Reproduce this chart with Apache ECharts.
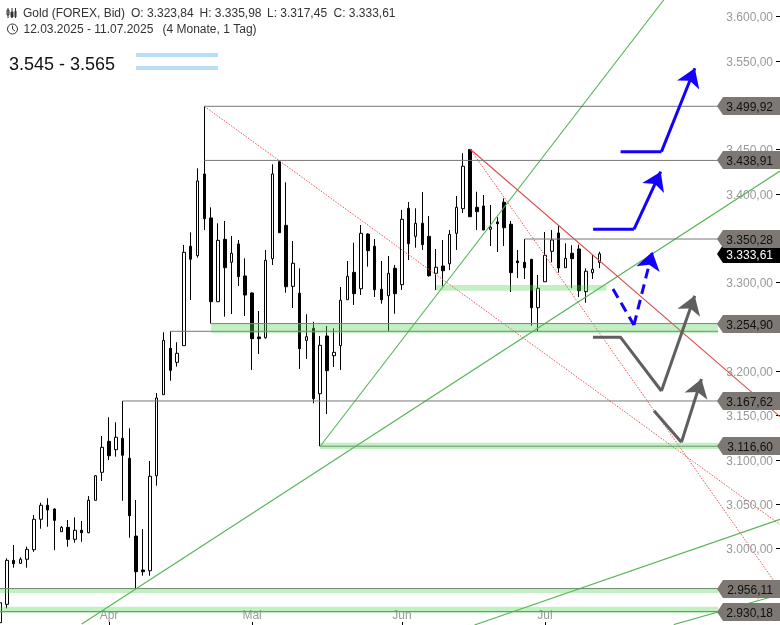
<!DOCTYPE html>
<html>
<head>
<meta charset="utf-8">
<title>Gold (FOREX, Bid)</title>
<script src="https://cdn.jsdelivr.net/npm/echarts@6/dist/echarts.min.js"></script>
<style>
  html, body { margin: 0; padding: 0; background: #fff; }
  #chart { width: 780px; height: 625px; }
</style>
</head>
<body>
<div id="chart"></div>
<script>
// daily candles, one entry per trading day (bar number = position in the list)
const opens = [2917.6,2938.3,2987.9,2984.5,2989.1,2999.9,3034.2,3050.0,3045.8,3020.2,3025.1,3011.6,3021.8,3019.1,3055.6,3087.2,3122.1,3112.7,3125.5,3103.0,3015.3,2977.0,2976.2,3083.3,3174.7,3227.0,3211.2,3230.0,3342.1,3331.5,3423.6,3374.0,3279.6,3349.9,3324.0,3344.7,3308.6,3289.4,3239.8,3239.0,3328.1,3437.5,3365.7,3296.9,3289.1,3236.0,3249.6,3175.8,3240.9,3218.7,3230.0,3281.8,3312.7,3294.2,3355.9,3342.1,3293.6,3286.3,3317.2,3298.8,3384.9,3353.3,3368.0,3353.3,3311.6,3319.8,3322.4,3356.7,3384.5,3451.2,3386.0,3387.5,3361.2,3369.5,3391.7,3366.9,3325.5,3324.0,3327.4,3272.8,3302.1,3336.4,3357.1,3317.9,3334.2,3339.0,3290.9,3312.3,3323.84];
const closes = [2940.1,2987.9,2984.1,2989.1,3000.3,3034.2,3050.0,3044.7,3033.0,3025.1,3011.6,3021.8,3019.1,3055.6,3083.3,3115.4,3105.9,3126.7,3106.4,3038.2,2975.1,2975.1,3082.7,3171.0,3236.0,3202.2,3221.4,3335.3,3327.4,3415.7,3373.2,3279.6,3348.8,3317.9,3334.2,3307.8,3287.1,3237.9,3237.9,3326.3,3423.6,3357.4,3296.5,3322.9,3226.6,3240.1,3170.2,3230.4,3201.8,3222.5,3281.2,3308.2,3288.6,3356.7,3337.1,3293.1,3281.8,3311.6,3288.6,3372.5,3345.0,3368.0,3343.9,3308.9,3318.4,3314.5,3355.6,3386.0,3432.3,3375.4,3381.1,3360.4,3363.5,3367.5,3363.0,3312.3,3323.6,3317.9,3272.8,3294.7,3331.9,3349.2,3317.6,3328.5,3328.1,3292.0,3313.9,3316.1,3333.61];
const lows = [2915.5,2933.8,2979.6,2983.8,2979.6,2997.6,3023.6,3025.8,2999.5,3020.2,3003.3,3007.8,3008.9,3018.4,3055.6,3077.4,3101.0,3104.8,3055.1,3013.4,2956.11,2970.6,2970.6,3072.1,3174.7,3190.5,3206.3,3230.0,3281.5,3329.2,3360.4,3254.90,3279.6,3262.7,3265.7,3297.3,3263.4,3202.6,3220.6,3237.9,3321.0,3357.4,3289.7,3272.5,3203.7,3215.0,3165.0,3116.60,3152.9,3205.9,3202.6,3281.8,3275.9,3287.1,3319.1,3284.9,3277.3,3246.5,3266.0,3292.8,3326.6,3340.5,3337.9,3307.8,3292.8,3296.5,3315.3,3337.9,3379.6,3375.4,3360.4,3360.4,3342.4,3335.6,3342.4,3290.5,3306.3,3305.2,3252.5,3246.5,3302.1,3324.0,3312.3,3317.9,3294.7,3284.9,3278.4,3305.2,3317.45];
const highs = [2943.2,2990.2,3005.2,2991.3,3003.3,3039.0,3052.9,3057.9,3046.6,3026.6,3033.4,3036.4,3032.3,3060.4,3084.1,3128.1,3149.2,3143.6,3167.62,3136.8,3055.9,3023.2,3099.9,3176.6,3245.1,3246.2,3233.8,3343.5,3357.8,3430.0,3499.92,3386.0,3368.0,3370.6,3353.7,3349.2,3328.5,3290.2,3269.1,3337.9,3434.5,3438.91,3414.2,3348.0,3317.2,3265.4,3257.0,3240.9,3252.2,3249.6,3296.2,3325.5,3346.1,3366.1,3356.7,3350.3,3325.5,3331.1,3321.0,3383.0,3392.0,3384.9,3403.3,3376.2,3339.0,3349.2,3360.4,3398.8,3446.9,3451.8,3403.6,3399.9,3388.6,3374.8,3396.2,3370.6,3337.9,3350.28,3327.4,3309.7,3358.2,3360.4,3365.7,3345.4,3343.2,3343.9,3317.2,3332.3,3335.98];

// axis ticks
const monthBars = [16, 37, 59, 80];
const monthLabels = ['Apr', 'Mai', 'Jun', 'Jul'];
const priceTicks = [2950,3000,3050,3100,3150,3200,3250,3300,3350,3400,3450,3500,3550,3600];
const priceTickLabels = ['2.950,00','3.000,00','3.050,00','3.100,00','3.150,00','3.200,00','3.250,00','3.300,00','3.350,00','3.400,00','3.450,00','3.500,00','3.550,00','3.600,00'];

// horizontal levels: [first bar, price]
const levels = [[30,3499.92],[30,3438.91],[77,3350.28],[31,3254.90],[25,3246.2],[18,3167.62],[47,3116.60],[0,2956.11],[0,2930.18]];
const levelLabels = [[3499.92,'3.499,92'],[3438.91,'3.438,91'],[3350.28,'3.350,28'],[3254.90,'3.254,90'],[3167.62,'3.167,62'],[3116.60,'3.116,60'],[2956.11,'2.956,11'],[2930.18,'2.930,18']];
const lastPrice = [3333.61, '3.333,61'];
const levelEnd = 105.4;

// support zones: [first bar, last bar, upper price, lower price]
const zones = [[31,105.4,3255.2,3243.9],[47,105.4,3120.6,3113.5],[0,105.4,2956.4,2951],[0,105.4,2935.6,2928.2],[64,89,3298.4,3292]];

// trend lines: [bar, price] pairs
const greenLines = [[[47,3116.6],[97.43,3619.8]],[[12,2916.1],[114.5,3427]],[[69.65,2915],[114.5,3034.2]],[[98.9,2915.5],[114.5,2949.4]]];
const redLine = [[69,3451.8],[114.5,3149.9]];
const redDotted = [[[30,3499.92],[114.5,3028.3]],[[69,3451.8],[114.5,2955]]];

// scenario arrows
const blueUpper = [[91.1,3448.8],[97.1,3448.8],[102,3542.8]];
const blueLower = [[87.07,3361.2],[93.06,3361.2],[96.99,3426.2]];
const blueDashed = [[89.98,3293.9],[93.06,3253.3],[95.77,3336]];
const grayUpper = [[87.04,3239.4],[91.1,3239.4],[97.09,3178.9],[101.98,3286.3]];
const grayLower = [[96,3156.7],[100.03,3121],[102.97,3192.4]];

const FONT = '"Liberation Sans", Arial, sans-serif';

function lineSeries(points, color, type, z, width) {
  return {
    type: 'line', xAxisIndex: 0, yAxisIndex: 1, data: points, symbol: 'none', silent: true,
    lineStyle: { color: color, width: width || 1, type: type }, z: z
  };
}

// last segment goes through markLine so it gets the arrow head
function arrowSeries(points, color, type) {
  const n = points.length;
  return {
    type: 'line', xAxisIndex: 0, yAxisIndex: 1, data: points.slice(0, n - 1), symbol: 'none', silent: true,
    lineStyle: { color: color, width: 3, type: type, join: 'round' }, z: 5,
    markLine: {
      silent: true, animation: false, symbol: ['none', 'arrow'], symbolSize: 18,
      label: { show: false },
      lineStyle: { color: color, width: 3, type: type },
      data: [[{ coord: points[n - 2] }, { coord: points[n - 1] }]]
    }
  };
}

function renderZone(params, api) {
  const a = api.coord([api.value(0), api.value(2)]);
  const b = api.coord([api.value(1), api.value(3)]);
  return {
    type: 'rect',
    shape: { x: a[0], y: a[1], width: b[0] - a[0], height: b[1] - a[1] },
    style: { fill: 'rgba(86,206,86,0.35)' }
  };
}

// price ticks at the right edge, on the tick scale
function renderPriceTick(params, api) {
  const y = Math.round(api.coord([0, api.value(1)])[1]) + 0.5;
  const right = params.coordSys.x + params.coordSys.width;
  return { type: 'line', shape: { x1: right - 4, y1: y, x2: right, y2: y }, style: { stroke: '#000', lineWidth: 1 } };
}

function pillSeries(data, fill, textColor, z) {
  return {
    type: 'custom', xAxisIndex: 0, yAxisIndex: 1, silent: true, clip: false, z: z,
    data: data.map(d => [0, d[0], d[1]]),
    renderItem: function (params, api) {
      const y = Math.round(api.coord([0, api.value(1)])[1]);
      const right = params.coordSys.x + params.coordSys.width;
      return {
        type: 'group',
        children: [
          { type: 'polygon', shape: { points: [[right - 63, y], [right - 57, y - 9], [right, y - 9], [right, y + 9], [right - 57, y + 9]] }, style: { fill: fill } },
          { type: 'text', style: { text: data[params.dataIndex][1], x: right - 7, y: y + 2, align: 'right', verticalAlign: 'middle', fill: textColor, font: '12px ' + FONT } }
        ]
      };
    }
  };
}

const candles = opens.map((o, i) => [i, o, closes[i], lows[i], highs[i]]);

const headerText = [
  ['Gold (FOREX, Bid)', 23, 14], ['O: 3.323,84', 131, 14], ['H: 3.335,98', 199.5, 14], ['L: 3.317,45', 267, 14], ['C: 3.333,61', 333.5, 14],
  ['12.03.2025 - 11.07.2025', 23.5, 30], ['(4 Monate, 1 Tag)', 162.5, 30]
];

const myChart = echarts.init(document.getElementById('chart'), null, { renderer: 'canvas' });

const option = {
  animation: false,
  backgroundColor: '#fff',
  grid: { left: 0, right: 0, top: 0, bottom: 0 },
  xAxis: {
    type: 'value', min: 0, max: 114.5, splitLine: { show: false }, axisLine: { show: false },
    axisTick: { show: true, inside: true, length: 3, lineStyle: { color: '#000' }, customValues: monthBars },
    axisLabel: {
      inside: true, margin: 3, color: '#999', fontFamily: FONT, fontSize: 12, customValues: monthBars,
      formatter: v => monthLabels[monthBars.indexOf(v)]
    }
  },
  yAxis: [
    {
      // tick scale
      type: 'value', position: 'right', min: 2913.6, max: 3618.5, splitLine: { show: false }, axisLine: { show: false },
      axisTick: { show: false },
      axisLabel: {
        inside: true, margin: 7, customValues: priceTicks,
        formatter: v => '{p|' + priceTickLabels[priceTicks.indexOf(v)] + '}',
        rich: { p: { color: '#999', fontFamily: FONT, fontSize: 12, padding: [3, 0, 0, 0] } }
      }
    },
    // price scale of the marks
    { type: 'value', position: 'right', min: 2915, max: 3619.8, show: false, splitLine: { show: false } }
  ],
  graphic: [
    // candle icon
    { type: 'rect', shape: { x: 7, y: 10, width: 2, height: 5 }, style: { fill: '#fff', stroke: '#333', lineWidth: 1 } },
    { type: 'line', shape: { x1: 8, y1: 8, x2: 8, y2: 18 }, style: { stroke: '#333', lineWidth: 1 } },
    { type: 'rect', shape: { x: 11, y: 12, width: 2, height: 5 }, style: { fill: '#333', stroke: '#333', lineWidth: 1 } },
    { type: 'line', shape: { x1: 12, y1: 8, x2: 12, y2: 18 }, style: { stroke: '#333', lineWidth: 1 } },
    { type: 'rect', shape: { x: 15, y: 11, width: 1, height: 6 }, style: { fill: '#fff', stroke: '#333', lineWidth: 1 } },
    { type: 'line', shape: { x1: 15.5, y1: 8, x2: 15.5, y2: 18 }, style: { stroke: '#333', lineWidth: 1 } },
    // clock icon
    { type: 'circle', shape: { cx: 12.5, cy: 29, r: 5 }, style: { fill: 'none', stroke: '#333', lineWidth: 1 } },
    { type: 'polyline', shape: { points: [[12.5, 25.5], [12.5, 29], [15, 31]] }, style: { fill: 'none', stroke: '#333', lineWidth: 1 } },
    ...headerText.map(t => ({
      type: 'text', x: t[1], y: t[2],
      style: { text: t[0], fill: '#333', font: '12px ' + FONT, verticalAlign: 'middle' }
    })),
    { type: 'text', x: 9, y: 65, style: { text: '3.545 - 3.565', fill: '#111', font: '18px ' + FONT, verticalAlign: 'middle' } },
    { type: 'rect', shape: { x: 136, y: 53, width: 82, height: 4 }, style: { fill: '#b8def8' } },
    { type: 'rect', shape: { x: 136, y: 66, width: 82, height: 4 }, style: { fill: '#b8def8' } }
  ],
  series: [
    {
      type: 'candlestick', xAxisIndex: 0, yAxisIndex: 1, data: candles, barWidth: 3, silent: true, z: 2,
      itemStyle: { color: 'transparent', color0: '#000', borderColor: '#000', borderColor0: '#000', borderWidth: 1 }
    },
    ...greenLines.map(l => lineSeries(l, '#55b355', 'solid', 3, 1.1)),
    lineSeries(redLine, '#e04848', 'solid', 3, 1.1),
    ...redDotted.map(l => lineSeries(l, '#f05050', [1.5, 1.5], 3, 1)),
    ...levels.map(l => lineSeries([l, [levelEnd, l[1]]], '#777', 'solid', 3)),
    { type: 'custom', xAxisIndex: 0, yAxisIndex: 1, data: zones, renderItem: renderZone, silent: true, z: 4 },
    { type: 'custom', xAxisIndex: 0, yAxisIndex: 0, data: priceTicks.map(v => [0, v]), renderItem: renderPriceTick, silent: true, clip: false, z: 1 },
    arrowSeries(blueUpper, '#1400ff', 'solid'),
    arrowSeries(blueLower, '#1400ff', 'solid'),
    arrowSeries(blueDashed, '#1400ff', [10, 6]),
    arrowSeries(grayUpper, '#5f5f5f', 'solid'),
    arrowSeries(grayLower, '#5f5f5f', 'solid'),
    pillSeries([lastPrice], '#000', '#fff', 6),
    pillSeries(levelLabels, '#7d7873', '#111', 7)
  ]
};

myChart.setOption(option);
</script>
</body>
</html>
